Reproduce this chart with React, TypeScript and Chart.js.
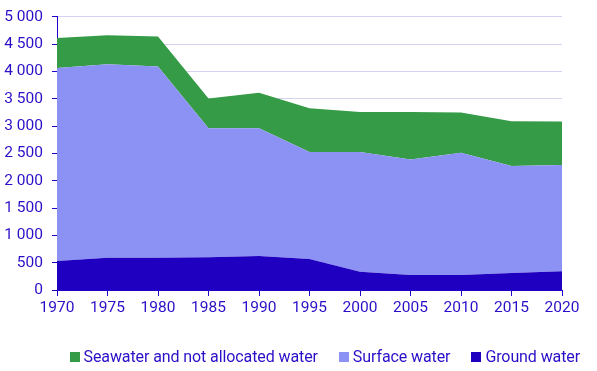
import React, { useEffect, useRef } from "react";
import { Chart, registerables } from "chart.js";

Chart.register(...registerables);

const years = ["1970", "1975", "1980", "1985", "1990", "1995", "2000", "2005", "2010", "2015", "2020"];
const groundWater = [530, 590, 590, 600, 620, 565, 335, 275, 275, 310, 345];
const surfaceWater = [3530, 3540, 3500, 2360, 2340, 1960, 2190, 2115, 2235, 1960, 1940];
const seawater = [550, 530, 550, 545, 650, 800, 730, 865, 740, 820, 800];

const seriesNames = ["Ground water", "Surface water", "Seawater and not allocated water"];
const seriesColors = ["#2000c0", "#8c92f4", "#359b47"];

const textColor = "#2a0fc8";
const axisColor = "#2200cc";
const fontFamily = "Roboto";

export default function App() {
  const ref = useRef<HTMLCanvasElement | null>(null);
  useEffect(() => {
    document.body.style.margin = "0";
    const ctx = ref.current!;
    const values = [groundWater, surfaceWater, seawater];
    const chart = new Chart(ctx, {
      type: "line",
      data: {
        labels: years,
        datasets: values.map((d, i) => ({
          label: seriesNames[i],
          data: d,
          backgroundColor: seriesColors[i],
          borderWidth: 0,
          pointRadius: 0,
          fill: i === 0 ? "origin" : "-1",
        })),
      },
      options: {
        animation: false,
        responsive: false,
        layout: { padding: { left: 0, right: 35, top: 0, bottom: 50 } },
        plugins: {
          legend: { display: false },
          tooltip: { enabled: false },
        },
        scales: {
          x: {
            grid: {
              drawOnChartArea: false,
              drawTicks: true,
              tickLength: 6,
              color: axisColor,
            },
            border: { color: axisColor },
            ticks: {
              color: textColor,
              font: { family: fontFamily, size: 15.5 },
              maxRotation: 0,
              padding: 3,
            },
            offset: false,
            afterFit: (scale: any) => {
              scale.height = 31;
            },
          },
          y: {
            stacked: true,
            min: 0,
            max: 5000,
            grid: { color: "#d4d2f0", drawTicks: true, tickLength: 5, tickColor: axisColor },
            border: { color: axisColor },
            ticks: {
              stepSize: 500,
              padding: 9,
              color: textColor,
              font: { family: fontFamily, size: 15.5, lineHeight: 1 },
              callback: (v: any) => String(v).replace(/\B(?=(\d{3})+(?!\d))/g, " "),
            },
            afterFit: (scale: any) => {
              scale.width = 57;
            },
          },
        },
      },
    });
    return () => chart.destroy();
  }, []);
  const legendOrder = [2, 1, 0];
  return (
    <div style={{ width: 597, height: 371, position: "relative" }}>
      <canvas ref={ref} width={597} height={371} />
      <div
        style={{
          position: "absolute",
          top: 347,
          right: 17,
          display: "flex",
          alignItems: "center",
          fontFamily,
          fontSize: 16,
          letterSpacing: "-0.1px",
          lineHeight: "19px",
          color: textColor,
          whiteSpace: "nowrap",
        }}
      >
        {legendOrder.map((i, k) => (
          <span key={i} style={{ display: "flex", alignItems: "center", marginLeft: k === 0 ? 0 : 21 }}>
            <span style={{ display: "inline-block", width: 10, height: 10, background: seriesColors[i], marginRight: 4 }} />
            <span>{seriesNames[i]}</span>
          </span>
        ))}
      </div>
    </div>
  );
}
